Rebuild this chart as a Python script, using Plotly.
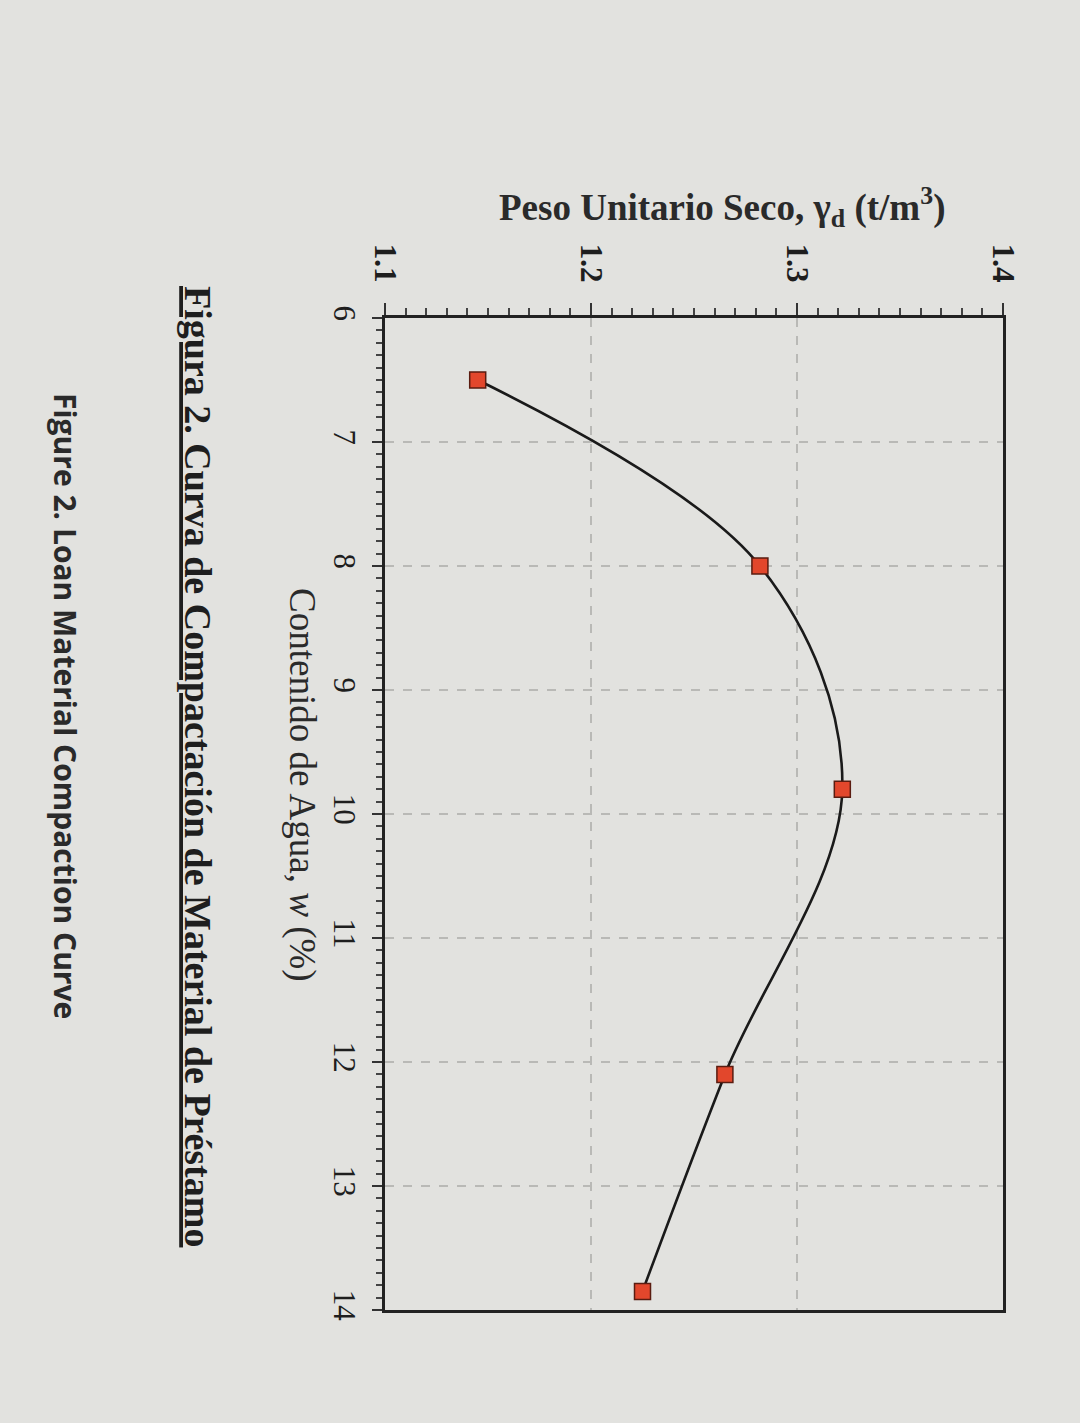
import plotly.graph_objects as go

# Data read from the (rotated) reference chart
water_content = [6.5, 8.0, 9.8, 12.1, 13.85]             # Contenido de Agua, w (%)
dry_unit_weight = [1.145, 1.282, 1.322, 1.265, 1.225]    # Peso Unitario Seco (t/m3)

w_ticks = [6, 7, 8, 9, 10, 11, 12, 13, 14]
g_ticks = [1.1, 1.2, 1.3, 1.4]

W, H = 1080, 1423
L, R, T, B = 385, 1003, 318, 1310

def px(x):
    return (x - L) / (R - L)

def py(y):
    return (B - y) / (B - T)

BG = "#e2e2df"
SERIF = "Liberation Serif"

fig = go.Figure()
fig.add_trace(go.Scatter(
    x=dry_unit_weight, y=water_content,
    mode="lines+markers",
    line=dict(color="#1a1a1a", width=2.6, shape="spline", smoothing=1.0),
    marker=dict(symbol="square", size=16, color="#e2472c",
                line=dict(color="#5a1c10", width=1.5)),
    showlegend=False,
))

fig.update_layout(
    width=W, height=H,
    margin=dict(l=L, r=W - R, t=T, b=H - B),
    paper_bgcolor=BG, plot_bgcolor=BG,
    xaxis=dict(
        range=[1.1, 1.4], side="top", tickvals=g_ticks,
        ticktext=[f"<b>{v:.1f}</b>" for v in g_ticks],
        tickangle=90, tickfont=dict(family=SERIF, size=31, color="#1e1e1e"),
        ticks="outside", ticklen=12, tickwidth=2, tickcolor="#333",
        ticklabelstandoff=10,
        minor=dict(dtick=0.01, ticks="outside", ticklen=7, tickwidth=1.5,
                   tickcolor="#444", showgrid=False),
        showline=True, linecolor="#222", linewidth=2.5, mirror=True,
        showgrid=True, gridcolor="#b9b9b6", griddash="dash", gridwidth=1.5,
        zeroline=False,
    ),
    yaxis=dict(
        range=[14, 6], tickvals=w_ticks,
        ticktext=[str(v) for v in w_ticks],
        tickangle=90, tickfont=dict(family=SERIF, size=31, color="#1e1e1e"),
        ticks="outside", ticklen=10, tickwidth=2, tickcolor="#333",
        ticklabelstandoff=1,
        minor=dict(dtick=0.1, ticks="outside", ticklen=6, tickwidth=1.5,
                   tickcolor="#444", showgrid=False),
        showline=True, linecolor="#222", linewidth=2.5, mirror=True,
        showgrid=True, gridcolor="#b9b9b6", griddash="dash", gridwidth=1.5,
        zeroline=False,
    ),
)

anns = [
    dict(text="<b>Peso Unitario Seco, γ<sub>d</sub> (t/m<sup>3</sup>)</b>",
         x=px(722), y=py(207), textangle=0,
         font=dict(family=SERIF, size=37, color="#2a2a2a")),
    dict(text="Contenido de Agua, <i>w</i> (%)",
         x=px(302), y=py(785), textangle=90,
         font=dict(family=SERIF, size=37, color="#2a2a2a")),
    dict(text="<b>Figura 2. Curva de Compactación de Material de Préstamo</b>",
         x=px(198), y=py(766), textangle=90,
         font=dict(family=SERIF, size=38, color="#1e1e1e", lineposition="under")),
    dict(text="<b>Figure 2. Loan Material Compaction Curve</b>",
         x=px(66), y=py(706), textangle=90,
         font=dict(family="Open Sans", size=30, color="#2a2a2a")),
]
for a in anns:
    fig.add_annotation(xref="paper", yref="paper", showarrow=False,
                       xanchor="center", yanchor="middle", **a)

fig.write_html("out.html")
